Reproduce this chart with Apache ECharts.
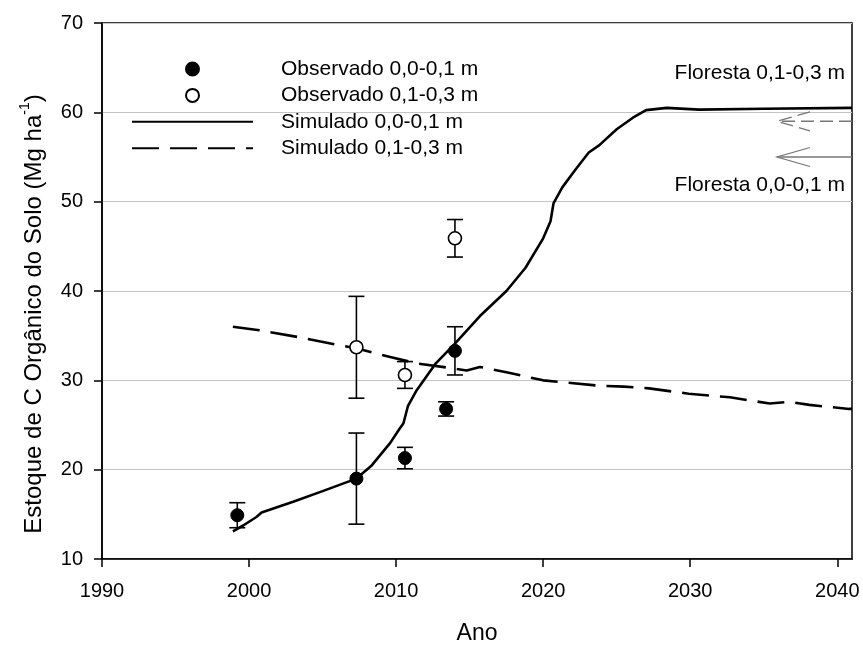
<!DOCTYPE html>
<html>
<head>
<meta charset="utf-8">
<script src="https://cdn.jsdelivr.net/npm/echarts@6/dist/echarts.min.js"></script>
<style>html,body{margin:0;padding:0;background:#fff}#c{width:863px;height:650px}</style>
</head>
<body>
<div id="c"></div>
<script>
// ---- data ----
const xTicks = [1990, 2000, 2010, 2020, 2030, 2040];
const yTicks = [10, 20, 30, 40, 50, 60, 70];

const obs0Years = [1999.2, 2007.3, 2010.6, 2013.4, 2014.0];
const obs0Vals  = [14.9, 19.0, 21.3, 26.8, 33.3];
const obs0Err   = [1.4, 5.1, 1.2, 0.8, 2.7];

const obs1Years = [2007.3, 2010.6, 2014.0];
const obs1Vals  = [33.7, 30.6, 45.9];
const obs1Err   = [5.7, 1.5, 2.1];

const sim0Years = [1998.9, 1999.6, 2000.5, 2000.85, 2003.0, 2005.0, 2007.3, 2008.3, 2009.6, 2010.2, 2010.5, 2010.8, 2011.4, 2012.7, 2014.0, 2015.7, 2017.5, 2018.8, 2020.0, 2020.5, 2020.7, 2021.3, 2022.2, 2023.1, 2023.8, 2025.0, 2026.1, 2027.0, 2028.4, 2030.6, 2035.0, 2041.0];
const sim0Vals  = [13.1, 13.75, 14.7, 15.2, 16.4, 17.6, 19.0, 20.4, 23.0, 24.5, 25.2, 27.1, 28.9, 31.9, 34.1, 37.2, 40.0, 42.6, 45.9, 47.8, 49.8, 51.6, 53.6, 55.5, 56.3, 58.1, 59.4, 60.25, 60.5, 60.3, 60.4, 60.5];

const sim1Years = [1998.9, 2000.7, 2003.5, 2005.9, 2007.3, 2009.6, 2011.4, 2013.6, 2014.8, 2015.7, 2017.5, 2020.0, 2023.8, 2025.5, 2027.2, 2029.9, 2032.7, 2035.4, 2036.7, 2038.1, 2040.8, 2041.0];
const sim1Vals  = [36.0, 35.6, 34.8, 34.0, 33.6, 32.6, 31.9, 31.4, 31.1, 31.5, 30.9, 30.0, 29.4, 29.3, 29.1, 28.5, 28.1, 27.4, 27.6, 27.25, 26.8, 26.8];

// forest reference arrows: [start year, end year (tip), value]
const forestLabels = ['Floresta 0,1-0,3 m', 'Floresta 0,0-0,1 m'];
const forestArrows = [[2041, 2035.9, 59.0], [2041, 2035.9, 55.0]];

const seriesNames = ['Observado 0,0-0,1 m', 'Observado 0,1-0,3 m', 'Simulado 0,0-0,1 m', 'Simulado 0,1-0,3 m'];

// ---- build ----
const FONT = 'Liberation Sans';
const zip = (a, b) => a.map((v, i) => [v, b[i]]);
const errData = (ys, vs, es) => ys.map((y, i) => [y, vs[i] - es[i], vs[i] + es[i]]);

function renderErr(params, api) {
  const x = api.value(0);
  const lo = api.coord([x, api.value(1)]);
  const hi = api.coord([x, api.value(2)]);
  const hw = 8;
  const st = { stroke: '#000', lineWidth: 1.6 };
  return {
    type: 'group',
    children: [
      { type: 'line', shape: { x1: lo[0], y1: lo[1], x2: hi[0], y2: hi[1] }, style: st },
      { type: 'line', shape: { x1: lo[0] - hw, y1: lo[1], x2: lo[0] + hw, y2: lo[1] }, style: st },
      { type: 'line', shape: { x1: hi[0] - hw, y1: hi[1], x2: hi[0] + hw, y2: hi[1] }, style: st }
    ]
  };
}

function renderArrow(params, api) {
  const p0 = api.coord([api.value(0), api.value(2)]);
  const p1 = api.coord([api.value(1), api.value(2)]);
  const dashed = params.dataIndex === 0;
  const st = { stroke: '#777', lineWidth: 1.3, lineDash: dashed ? [13, 6] : null, fill: null };
  return {
    type: 'group',
    children: [
      { type: 'line', shape: { x1: p0[0], y1: p0[1], x2: p1[0], y2: p1[1] }, style: st },
      { type: 'polyline', shape: { points: [[p1[0] + 33, p1[1] - 9.5], [p1[0], p1[1]], [p1[0] + 33, p1[1] + 9.5]] }, style: st }
    ]
  };
}

const noSym = { color: 'transparent', borderColor: 'transparent', borderWidth: 0, opacity: 0 };

const chart = echarts.init(document.getElementById('c'), null, { renderer: 'canvas' });
chart.setOption({
  backgroundColor: '#fff',
  animation: false,
  textStyle: { fontFamily: FONT, color: '#000' },
  grid: { left: 102, right: 11, top: 23, bottom: 86, show: true, borderColor: '#000', borderWidth: 1.5, backgroundColor: 'transparent' },
  xAxis: {
    type: 'value', min: 1990, max: 2041, interval: 10,
    name: 'Ano', nameLocation: 'middle', nameGap: 63,
    nameTextStyle: { fontFamily: FONT, fontSize: 23, color: '#000' },
    axisLine: { show: true, onZero: false, lineStyle: { color: '#000', width: 1.5 } },
    axisTick: { show: true, inside: false, length: 8, lineStyle: { color: '#000', width: 1.5 }, customValues: xTicks },
    axisLabel: { fontFamily: FONT, fontSize: 20, color: '#000', margin: 22, customValues: xTicks, formatter: v => String(v) },
    splitLine: { show: false }
  },
  yAxis: {
    type: 'value', min: 10, max: 70, interval: 10,
    name: '{a|Estoque de C Orgânico do Solo (Mg ha}{b|-1}{a|)}',
    nameLocation: 'middle', nameGap: 56, nameRotate: 90,
    nameTextStyle: {
      fontFamily: FONT, fontSize: 24, color: '#000', padding: [0, 46, 0, 0],
      rich: {
        a: { fontFamily: FONT, fontSize: 24, color: '#000', lineHeight: 28, verticalAlign: 'bottom' },
        b: { fontFamily: FONT, fontSize: 14, color: '#000', verticalAlign: 'top', lineHeight: 28 }
      }
    },
    axisLine: { show: true, lineStyle: { color: '#000', width: 1.5 } },
    axisTick: { show: true, inside: false, length: 8, lineStyle: { color: '#000', width: 1.5 } },
    axisLabel: { fontFamily: FONT, fontSize: 20, color: '#000', margin: 19, formatter: v => String(v) },
    splitLine: { show: true, lineStyle: { color: '#c4c4c4', width: 1.2 } }
  },
  legend: {
    orient: 'vertical', left: 126, top: 53,
    itemWidth: 121, itemHeight: 13, itemGap: 4.4,
    textStyle: { fontFamily: FONT, fontSize: 21, color: '#000', padding: [0, 0, 0, 23], lineHeight: 22 },
    data: [
      { name: seriesNames[0], icon: 'circle' },
      { name: seriesNames[1], icon: 'circle' },
      { name: seriesNames[2], itemStyle: noSym },
      { name: seriesNames[3], itemStyle: noSym }
    ]
  },
  graphic: [
    { type: 'text', right: 18, top: 63, style: { text: forestLabels[0], fontFamily: FONT, fontSize: 21, fill: '#000' } },
    { type: 'text', right: 18, top: 175, style: { text: forestLabels[1], fontFamily: FONT, fontSize: 21, fill: '#000' } }
  ],
  series: [
    {
      name: seriesNames[2], type: 'line', data: zip(sim0Years, sim0Vals),
      showSymbol: false, symbol: 'none', z: 3,
      lineStyle: { color: '#000', width: 2.6 }, itemStyle: { color: '#000' }
    },
    {
      name: seriesNames[3], type: 'line', data: zip(sim1Years, sim1Vals),
      showSymbol: false, symbol: 'none', z: 3,
      lineStyle: { color: '#000', width: 2.6, type: [27, 11] }, itemStyle: { color: '#000' }
    },
    {
      name: 'err0', type: 'custom', renderItem: renderErr, data: errData(obs0Years, obs0Vals, obs0Err), z: 4
    },
    {
      name: 'err1', type: 'custom', renderItem: renderErr, data: errData(obs1Years, obs1Vals, obs1Err), z: 4
    },
    {
      name: 'arrows', type: 'custom', renderItem: renderArrow, data: forestArrows, z: 2, clip: false
    },
    {
      name: seriesNames[0], type: 'scatter', data: zip(obs0Years, obs0Vals),
      symbol: 'circle', symbolSize: 13, z: 5,
      itemStyle: { color: '#000', borderColor: '#000', borderWidth: 1, opacity: 1 }
    },
    {
      name: seriesNames[1], type: 'scatter', data: zip(obs1Years, obs1Vals),
      symbol: 'circle', symbolSize: 13, z: 5,
      itemStyle: { color: '#fff', borderColor: '#000', borderWidth: 1.6, opacity: 1 }
    }
  ]
});
</script>
</body>
</html>
